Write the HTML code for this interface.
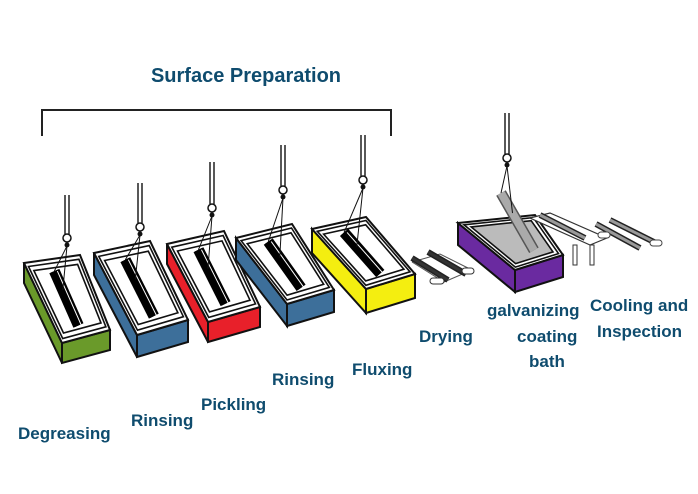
<!DOCTYPE html>
<html><head><meta charset="utf-8"><style>
html,body{margin:0;padding:0;background:#fff;}
svg{display:block}
text{font-family:"Liberation Sans","DejaVu Sans",sans-serif;font-weight:bold;fill:#0f4c6e;font-size:17px;}
</style></head><body>
<svg id="s" width="698" height="494" viewBox="0 0 698 494" xmlns="http://www.w3.org/2000/svg">
<text x="246" y="82" text-anchor="middle" style="font-size:20px">Surface Preparation</text>
<polyline points="42,136 42,110 391,110 391,136" fill="none" stroke="#222" stroke-width="2"/>
<g id="g"></g>
<text x="18" y="439">Degreasing</text>
<text x="131" y="426">Rinsing</text>
<text x="201" y="410">Pickling</text>
<text x="272" y="385">Rinsing</text>
<text x="352" y="375">Fluxing</text>
<text x="419" y="342">Drying</text>
<text x="487" y="316">galvanizing</text>
<text x="517" y="342">coating</text>
<text x="529" y="367">bath</text>
<text x="590" y="311">Cooling and</text>
<text x="597" y="337">Inspection</text>
</svg>
<script>
var g=document.getElementById('g'),ns="http://www.w3.org/2000/svg";
function el(t,a){var e=document.createElementNS(ns,t);for(var k in a)e.setAttribute(k,a[k]);g.appendChild(e);return e;}
function P(a){return a.map(function(p){return p[0].toFixed(1)+','+p[1].toFixed(1)}).join(' ')}
function L(a,b,t){return [a[0]+(b[0]-a[0])*t,a[1]+(b[1]-a[1])*t]}
function tank(A,B,C,D,h,col,hx,top,ring,inner,gray){
 var Ah=[A[0],A[1]+h],Dh=[D[0],D[1]+h],Ch=[C[0],C[1]+h];
 el('polygon',{points:P([A,D,Dh,Ah]),fill:col,stroke:'#111','stroke-width':2});
 el('polygon',{points:P([D,C,Ch,Dh]),fill:col,stroke:'#111','stroke-width':2});
 el('polygon',{points:P([A,B,C,D]),fill:'#fff',stroke:'#111','stroke-width':2});
 var cx=(A[0]+B[0]+C[0]+D[0])/4,cy=(A[1]+B[1]+C[1]+D[1])/4,c=[cx,cy];
 var q1=[L(A,c,.1),L(B,c,.1),L(C,c,.1),L(D,c,.1)];
 el('polygon',{points:P(q1),fill:'#fff',stroke:'#111','stroke-width':1.6});
 var q2=[L(A,c,.22),L(B,c,.22),L(C,c,.22),L(D,c,.22)];
 el('polygon',{points:P(q2),fill:gray?'#bbb':'#fff',stroke:'#111','stroke-width':1.6});
 if(inner===false)return;
 var s=L(L(A,B,.45),L(D,C,.45),.15),e=L(L(A,B,.45),L(D,C,.45),.85);
 if(gray){s=[hx-6,ring+35];e=L(L(A,B,.6),L(D,C,.6),.75);}
 el('line',{x1:s[0],y1:s[1],x2:e[0],y2:e[1],stroke:gray?'#555':'#000','stroke-width':11});
 el('line',{x1:s[0],y1:s[1],x2:e[0],y2:e[1],stroke:gray?'#aaa':'#000','stroke-width':8});
 if(!gray)el('line',{x1:s[0]+3,y1:s[1],x2:e[0]+3,y2:e[1],stroke:'#fff','stroke-width':1});
 el('line',{x1:hx-2,y1:top,x2:hx-2,y2:ring-4,stroke:'#111','stroke-width':1.4});
 el('line',{x1:hx+2,y1:top,x2:hx+2,y2:ring-4,stroke:'#111','stroke-width':1.4});
 el('circle',{cx:hx,cy:ring,r:4,fill:'#fff',stroke:'#111','stroke-width':1.5});
 el('circle',{cx:hx,cy:ring+7,r:2.5,fill:'#111'});
 var m=L(s,e,.35);
 el('line',{x1:hx,y1:ring+8,x2:s[0],y2:s[1],stroke:'#111','stroke-width':1});
 el('line',{x1:hx,y1:ring+8,x2:m[0],y2:m[1],stroke:'#111','stroke-width':1});
}
tank([24,263],[80,255],[110,330],[62,343],20,'#6a9a2a',67,195,238);
tank([94,253],[150,241],[188,320],[137,335],22,'#3d6f9a',140,183,227);
tank([167,244],[224,231],[260,307],[208,322],20,'#e8202a',212,162,208);
tank([236,238],[292,224],[334,290],[287,304],22,'#3d6f9a',283,145,190);
tank([312,229],[366,217],[415,274],[366,289],24,'#f4ee10',363,135,180);
function bar(x1,y1,x2,y2,c){el('line',{x1:x1,y1:y1,x2:x2,y2:y2,stroke:'#222','stroke-width':6});el('line',{x1:x1,y1:y1,x2:x2,y2:y2,stroke:c,'stroke-width':3});}
el('polyline',{points:'412,262 440,254 472,270 444,282 412,262',fill:'none',stroke:'#555','stroke-width':1});
bar(412,258,448,280,'#333');bar(428,252,466,274,'#333');
el('rect',{x:430,y:278,width:14,height:6,rx:3,fill:'#fff',stroke:'#333'});
el('rect',{x:462,y:268,width:12,height:6,rx:3,fill:'#fff',stroke:'#333'});
tank([458,223],[535,215],[563,255],[515,270],22,'#6a2aa0',507,113,158,true,true);
el('polygon',{points:'530,218 550,213 607,238 590,245',fill:'#fff',stroke:'#333','stroke-width':1.2});
el('rect',{x:573,y:245,width:4,height:20,fill:'#fff',stroke:'#333'});
el('rect',{x:590,y:245,width:4,height:20,fill:'#fff',stroke:'#333'});
bar(540,215,585,238,'#999');
bar(596,224,640,248,'#999');bar(610,220,658,244,'#999');
el('rect',{x:598,y:232,width:12,height:6,rx:3,fill:'#fff',stroke:'#444'});
el('rect',{x:650,y:240,width:12,height:6,rx:3,fill:'#fff',stroke:'#444'});
</script>
</body></html>
